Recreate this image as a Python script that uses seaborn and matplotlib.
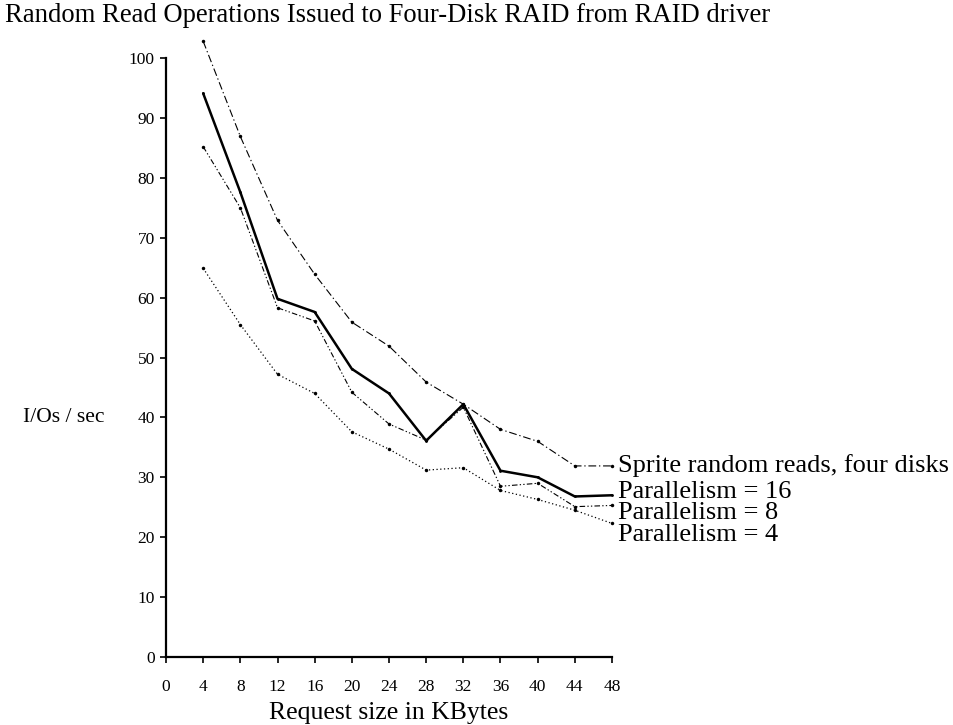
import matplotlib
matplotlib.use("Agg")
import matplotlib.pyplot as plt
import seaborn as sns
import pandas as pd

# Request sizes (KBytes)
request_kb = [4, 8, 12, 16, 20, 24, 28, 32, 36, 40, 44, 48]

# Throughput in I/Os per second
sprite_four_disks = [102.8, 86.9, 72.9, 63.9, 55.9, 51.9, 45.9, 42.2, 38.0, 36.0, 31.9, 31.9]
parallelism_16 = [94.1, 77.6, 59.8, 57.6, 48.1, 44.0, 36.1, 42.2, 31.1, 30.0, 26.8, 27.0]
parallelism_8 = [85.2, 75.0, 58.3, 56.1, 44.2, 38.9, 36.2, 41.7, 28.5, 29.0, 25.1, 25.3]
parallelism_4 = [64.9, 55.5, 47.2, 44.0, 37.6, 34.7, 31.2, 31.6, 27.8, 26.3, 24.5, 22.3]

series_names = [
    "Sprite random reads, four disks",
    "Parallelism = 16",
    "Parallelism = 8",
    "Parallelism = 4",
]
series_values = [sprite_four_disks, parallelism_16, parallelism_8, parallelism_4]
# y positions of the end labels (data units)
label_y = [32.0, 27.5, 24.0, 20.4]

sns.set_style("ticks")
plt.rcParams["font.family"] = ["Liberation Serif", "DejaVu Serif"]
plt.rcParams["text.color"] = "black"

fig = plt.figure(figsize=(9.54, 7.25), dpi=100)
ax = fig.add_axes([166 / 954, 1 - 657 / 725, 446 / 954, 599 / 725])

styles = {
    series_names[0]: dict(lw=0.8, dashes=(7, 2.5, 1.2, 2.5), marker="o", ms=2.5),
    series_names[1]: dict(lw=1.8, dashes=None, marker="o", ms=2.0),
    series_names[2]: dict(lw=0.8, dashes=(5, 2, 1.2, 2, 1.2, 2), marker="o", ms=2.5),
    series_names[3]: dict(lw=0.9, dashes=(1, 2), marker="o", ms=2.5),
}

for name, vals in zip(series_names, series_values):
    df = pd.DataFrame({"kb": request_kb, "ios": vals})
    st = styles[name]
    sns.lineplot(data=df, x="kb", y="ios", ax=ax, color="black",
                 lw=st["lw"], marker=st["marker"], markersize=st["ms"],
                 markeredgewidth=0, clip_on=False)
    line = ax.lines[-1]
    if st["dashes"] is not None:
        line.set_dashes(st["dashes"])

for name, yv in zip(series_names, label_y):
    ax.text(48.65, yv, name, ha="left", va="center", fontsize=19,
            color="black", clip_on=False)

ax.set_xlim(0, 48)
ax.set_ylim(0, 100)
ax.set_xticks(range(0, 49, 4))
ax.set_yticks(range(0, 101, 10))
ax.tick_params(axis="both", direction="out", length=4, width=1.2,
               labelsize=12.5, colors="black")
ax.tick_params(axis="x", pad=12)
ax.tick_params(axis="y", pad=4)
for side in ("top", "right"):
    ax.spines[side].set_visible(False)
for side in ("left", "bottom"):
    ax.spines[side].set_linewidth(1.6)
    ax.spines[side].set_color("black")
ax.set_xlabel("Request size in KBytes", fontsize=18.5, labelpad=5,
              color="black")
ax.set_ylabel("")

fig.text(23 / 954, 1 - 418 / 725, "I/Os / sec", ha="left", va="center",
         fontsize=15.5, color="black")
fig.text(5 / 954, 1 - 15 / 725,
         "Random Read Operations Issued to Four-Disk RAID from RAID driver",
         ha="left", va="center", fontsize=19.2, color="black")

fig.savefig("out.png", dpi=100)
